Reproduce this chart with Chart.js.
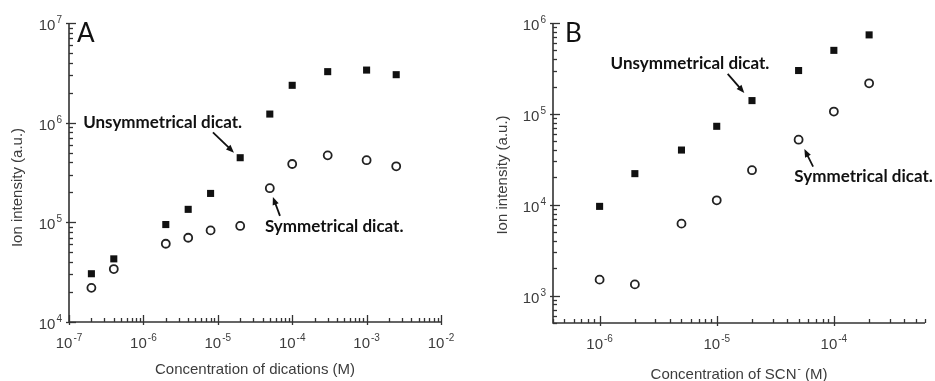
<!DOCTYPE html>
<html>
<head>
<meta charset="utf-8">
<script src="https://cdn.jsdelivr.net/npm/chart.js@4.4.0/dist/chart.umd.min.js"></script>
<style>
html, body { margin: 0; padding: 0; background: #fff; }
#wrap { position: relative; width: 935px; height: 381px; overflow: hidden; }
canvas { position: absolute; top: 0; }
#chartA { left: 0; }
#chartB { left: 465px; }
</style>
</head>
<body>
<div id="wrap">
  <canvas id="chartA" width="465" height="381"></canvas>
  <canvas id="chartB" width="470" height="381"></canvas>
</div>
<script>
// Panel A: ion intensity vs concentration of dications (M)
const concA  = [2e-7, 4e-7, 2e-6, 4e-6, 8e-6, 2e-5, 5e-5, 1e-4, 3e-4, 1e-3, 2.5e-3];
const unsymA = [3.05e4, 4.3e4, 9.5e4, 1.35e5, 1.95e5, 4.45e5, 1.22e6, 2.37e6, 3.25e6, 3.37e6, 3.03e6];
const symA   = [2.2e4, 3.4e4, 6.1e4, 7.0e4, 8.3e4, 9.2e4, 2.2e5, 3.85e5, 4.7e5, 4.2e5, 3.65e5];

// Panel B: ion intensity vs concentration of SCN- (M)
const concB  = [1e-6, 2e-6, 5e-6, 1e-5, 2e-5, 5e-5, 1e-4, 2e-4];
const unsymB = [9.6e3, 2.2e4, 4.0e4, 7.3e4, 1.4e5, 3.0e5, 5.0e5, 7.4e5];
const symB   = [1.5e3, 1.33e3, 6.2e3, 1.12e4, 2.4e4, 5.2e4, 1.06e5, 2.17e5];

// decade exponents that get a "10^n" tick label
const xExpA = [-7, -6, -5, -4, -3, -2];
const yExpA = [4, 5, 6, 7];
const xExpB = [-6, -5, -4];
const yExpB = [3, 4, 5, 6];

const axisColor = '#333';
const textColor = '#3c3c3c';
const labelFont = '"Liberation Sans", Arial, sans-serif';
const noteFont = 'Lato, "Open Sans", sans-serif';

// all 1..9 x 10^n values inside the range (minor + major ticks)
const logValues = (min, max) => {
    const out = [];
    for (let e = Math.floor(Math.log10(min)); e <= Math.ceil(Math.log10(max)); e++) {
        for (let k = 1; k <= 9; k++) {
            const v = k * Math.pow(10, e);
            if (v >= min * 0.9999 && v <= max * 1.0001) out.push({v, major: k === 1});
        }
    }
    return out;
};

// "10" with a raised exponent
const drawPow = (ctx, exp, x, y, align) => {
    ctx.font = '15px ' + labelFont;
    const base = ctx.measureText('10').width;
    ctx.font = '10px ' + labelFont;
    const sup = String(exp);
    const w = base + ctx.measureText(sup).width + 1;
    let left = align === 'center' ? x - w / 2 : x - w;
    ctx.textAlign = 'left';
    ctx.textBaseline = 'alphabetic';
    ctx.font = '15px ' + labelFont;
    ctx.fillText('10', left, y);
    ctx.font = '10px ' + labelFont;
    ctx.fillText(sup, left + base + 1, y - 7);
};

const arrow = (ctx, x1, y1, x2, y2) => {
    const a = Math.atan2(y2 - y1, x2 - x1);
    const len = 8, half = 3.2;
    ctx.beginPath();
    ctx.moveTo(x1, y1);
    ctx.lineTo(x2 - Math.cos(a) * len * 0.8, y2 - Math.sin(a) * len * 0.8);
    ctx.stroke();
    ctx.beginPath();
    ctx.moveTo(x2, y2);
    ctx.lineTo(x2 - Math.cos(a) * len - Math.sin(a) * half, y2 - Math.sin(a) * len + Math.cos(a) * half);
    ctx.lineTo(x2 - Math.cos(a) * len + Math.sin(a) * half, y2 - Math.sin(a) * len - Math.cos(a) * half);
    ctx.closePath();
    ctx.fill();
};

const makeAxesPlugin = (cfg) => ({
    id: 'logAxes',
    afterDraw(chart) {
        const {ctx, chartArea: ca, scales: {x, y}} = chart;
        ctx.save();
        // axis lines (left + bottom only)
        ctx.strokeStyle = axisColor;
        ctx.lineWidth = 1.6;
        ctx.beginPath();
        ctx.moveTo(ca.left, ca.top);
        ctx.lineTo(ca.left, ca.bottom);
        ctx.lineTo(ca.right, ca.bottom);
        ctx.stroke();

        // tick marks, pointing inwards
        ctx.lineWidth = 1.3;
        logValues(x.min, x.max).forEach(t => {
            const px = Math.round(x.getPixelForValue(t.v)) + 0.5;
            ctx.beginPath();
            ctx.moveTo(px, ca.bottom + (t.major ? 3 : 0));
            ctx.lineTo(px, ca.bottom - (t.major ? 7 : 4));
            ctx.stroke();
        });
        logValues(y.min, y.max).forEach(t => {
            const py = Math.round(y.getPixelForValue(t.v)) + 0.5;
            ctx.beginPath();
            ctx.moveTo(ca.left - (t.major ? 3 : 0), py);
            ctx.lineTo(ca.left + (t.major ? 7 : 4), py);
            ctx.stroke();
        });

        // tick labels
        ctx.fillStyle = textColor;
        cfg.xExp.forEach(e => drawPow(ctx, e, x.getPixelForValue(Math.pow(10, e)), ca.bottom + 26, 'center'));
        cfg.yExp.forEach(e => drawPow(ctx, e, ca.left - 7, y.getPixelForValue(Math.pow(10, e)) + 7, 'right'));

        // axis titles
        ctx.font = '15px ' + labelFont;
        ctx.textBaseline = 'middle';
        const cx = (ca.left + ca.right) / 2;
        if (cfg.xTitleSup) {
            const parts = [cfg.xTitle, cfg.xTitleSup, cfg.xTitleEnd];
            ctx.font = '15px ' + labelFont;
            const w0 = ctx.measureText(parts[0]).width, w2 = ctx.measureText(parts[2]).width;
            ctx.font = '10px ' + labelFont;
            const w1 = ctx.measureText(parts[1]).width + 1;
            let lx = cx - (w0 + w1 + w2) / 2;
            ctx.textAlign = 'left';
            ctx.font = '15px ' + labelFont;
            ctx.fillText(parts[0], lx, cfg.xTitleY);
            ctx.font = '10px ' + labelFont;
            ctx.fillText(parts[1], lx + w0 + 1, cfg.xTitleY - 6);
            ctx.font = '15px ' + labelFont;
            ctx.fillText(parts[2], lx + w0 + w1, cfg.xTitleY);
        } else {
            ctx.textAlign = 'center';
            ctx.fillText(cfg.xTitle, cx, cfg.xTitleY);
        }
        ctx.save();
        ctx.translate(cfg.yTitleX, (ca.top + ca.bottom) / 2 + cfg.yTitleShift);
        ctx.rotate(-Math.PI / 2);
        ctx.textAlign = 'center';
        ctx.fillText(cfg.yTitle, 0, 0);
        ctx.restore();

        // panel letter
        ctx.fillStyle = '#111';
        ctx.font = '26px ' + noteFont;
        ctx.textAlign = 'left';
        ctx.textBaseline = 'alphabetic';
        ctx.fillText(cfg.letter, ca.left + cfg.letterDx, ca.top + 19);

        // annotations with arrows, placed in data coordinates
        ctx.font = 'bold 17px ' + noteFont;
        ctx.textBaseline = 'middle';
        ctx.strokeStyle = '#111';
        ctx.lineWidth = 1.8;
        cfg.notes.forEach(n => {
            ctx.fillText(n.text, x.getPixelForValue(n.x), y.getPixelForValue(n.y));
            arrow(ctx,
                x.getPixelForValue(n.from[0]), y.getPixelForValue(n.from[1]),
                x.getPixelForValue(n.to[0]), y.getPixelForValue(n.to[1]));
        });
        ctx.restore();
    }
});

const makeChart = (id, cfg) => new Chart(document.getElementById(id), {
    type: 'scatter',
    data: {
        datasets: [{
            label: 'Unsymmetrical dicat.',
            data: cfg.conc.map((c, i) => ({x: c, y: cfg.unsym[i]})),
            pointStyle: 'rect',
            pointRadius: 5,
            backgroundColor: '#111',
            borderColor: '#111',
            borderWidth: 0
        }, {
            label: 'Symmetrical dicat.',
            data: cfg.conc.map((c, i) => ({x: c, y: cfg.sym[i]})),
            pointStyle: 'circle',
            pointRadius: 4,
            backgroundColor: 'rgba(255,255,255,0)',
            borderColor: '#222',
            borderWidth: 1.8
        }]
    },
    options: {
        responsive: false,
        animation: false,
        layout: {padding: {top: cfg.top, right: cfg.right, left: 0, bottom: 0}},
        plugins: {legend: {display: false}, tooltip: {enabled: false}},
        scales: {
            x: {
                type: 'logarithmic', min: cfg.xMin, max: cfg.xMax,
                ticks: {display: false}, grid: {display: false}, border: {display: false},
                afterFit: (s) => { s.height = cfg.xAxisH; }
            },
            y: {
                type: 'logarithmic', min: cfg.yMin, max: cfg.yMax,
                ticks: {display: false}, grid: {display: false}, border: {display: false},
                afterFit: (s) => { s.width = cfg.yAxisW; }
            }
        }
    },
    plugins: [makeAxesPlugin(cfg)]
});

makeChart('chartA', {
    conc: concA, unsym: unsymA, sym: symA,
    xMin: 1e-7, xMax: 1e-2, yMin: 1e4, yMax: 1e7,
    xExp: xExpA, yExp: yExpA,
    top: 23, right: 24, xAxisH: 59, yAxisW: 69,
    xTitle: 'Concentration of dications (M)', xTitleY: 370,
    yTitle: 'Ion intensity (a.u.)', yTitleX: 18, yTitleShift: 15,
    letter: 'A', letterDx: 8,
    notes: [
        {text: 'Unsymmetrical dicat.', x: 1.55e-7, y: 1e6, from: [8.6e-6, 8.0e5], to: [1.65e-5, 5.0e5]},
        {text: 'Symmetrical dicat.', x: 4.3e-5, y: 9e4, from: [6.85e-5, 1.16e5], to: [5.5e-5, 1.8e5]}
    ]
});

makeChart('chartB', {
    conc: concB, unsym: unsymB, sym: symB,
    xMin: 4e-7, xMax: 6e-4, yMin: 500, yMax: 1e6,
    xExp: xExpB, yExp: yExpB,
    top: 23, right: 10, xAxisH: 58, yAxisW: 88,
    xTitle: 'Concentration of SCN', xTitleSup: '-', xTitleEnd: ' (M)', xTitleY: 375,
    yTitle: 'Ion intensity (a.u.)', yTitleX: 38, yTitleShift: 2,
    letter: 'B', letterDx: 12,
    notes: [
        {text: 'Unsymmetrical dicat.', x: 1.24e-6, y: 3.6e5, from: [1.24e-5, 2.75e5], to: [1.72e-5, 1.7e5]},
        {text: 'Symmetrical dicat.', x: 4.6e-5, y: 2.04e4, from: [6.65e-5, 2.63e4], to: [5.6e-5, 4.1e4]}
    ]
});
</script>
</body>
</html>
